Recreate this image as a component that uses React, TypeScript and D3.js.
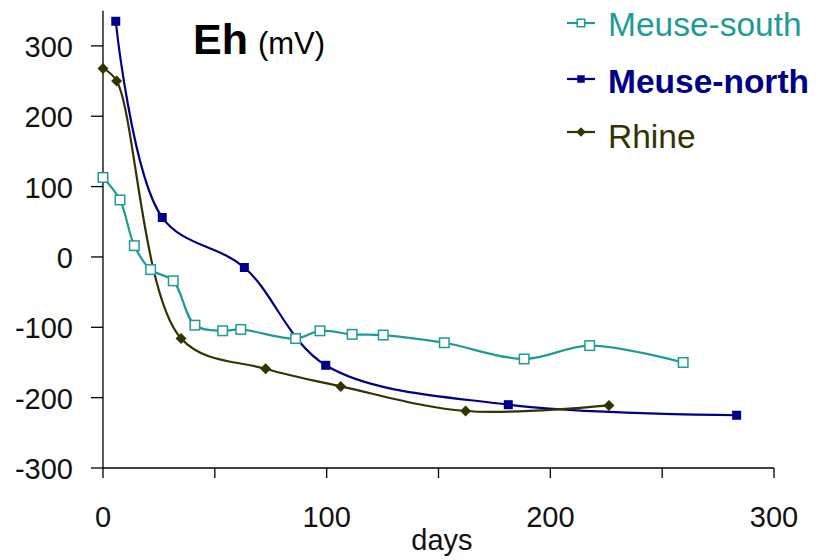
import React, { useEffect, useRef } from "react";
import * as d3 from "d3";

const seriesNames = ["Meuse-south", "Meuse-north", "Rhine"];

const southDays = [0, 7.6, 14, 21.3, 31.4, 41.1, 53.5, 61.6, 86.1, 97, 111.4, 125.3, 152.6, 188.3, 217.6, 259.4];
const southEh = [113, 81, 16, -18, -34, -97, -105, -103, -116, -105, -110, -111, -122, -145, -126, -150];

const northDays = [5.7, 26.5, 63.2, 99.6, 181.2, 283.3];
const northEh = [335, 56, -15, -154, -210, -225];

const rhineDays = [0, 6.1, 34.9, 72.7, 106.3, 162.1, 226.2];
const rhineEh = [268, 250, -116, -159, -184, -219, -211];

const xTicks = [0, 100, 200, 300];
const xMinorTicks = [0, 50, 100, 150, 200, 250, 300];
const yTicks = [-300, -200, -100, 0, 100, 200, 300];

const colors = ["#1f9b97", "#000088", "#333300"];
const font = "'Liberation Sans', Arial, sans-serif";

const App = () => {
  const svgRef = useRef<SVGSVGElement>(null);

  useEffect(() => {
    const svg = d3.select(svgRef.current);
    svg.selectAll("*").remove();

    const x = d3.scaleLinear().domain([0, 300]).range([103, 774]);
    const y = d3.scaleLinear().domain([-300, 350]).range([468, 10.7]);

    // axes
    const axes = svg.append("g").attr("stroke", "#000").attr("stroke-width", 1.3);
    axes.append("line").attr("x1", x(0)).attr("x2", x(0)).attr("y1", y(350)).attr("y2", y(-300));
    axes.append("line").attr("x1", x(0)).attr("x2", x(300)).attr("y1", y(-300)).attr("y2", y(-300));
    yTicks.forEach((t) => {
      axes.append("line").attr("x1", x(0) - 12).attr("x2", x(0)).attr("y1", y(t)).attr("y2", y(t));
    });
    xMinorTicks.forEach((t) => {
      axes.append("line").attr("x1", x(t)).attr("x2", x(t)).attr("y1", y(-300)).attr("y2", y(-300) + 10);
    });

    const labels = svg.append("g").attr("font-family", font).attr("font-size", 29).attr("fill", "#111");
    yTicks.forEach((t) => {
      labels.append("text").attr("x", 73).attr("y", y(t) + 11).attr("text-anchor", "end").text(t);
    });
    xTicks.forEach((t) => {
      labels.append("text").attr("x", x(t)).attr("y", 527).attr("text-anchor", "middle").text(t);
    });
    labels.append("text").attr("x", 442).attr("y", 550).attr("text-anchor", "middle").text("days");

    // title
    const title = svg.append("text").attr("font-family", font).attr("x", 193).attr("y", 54).attr("fill", "#000");
    title.append("tspan").attr("font-size", 43).attr("font-weight", "bold").text("Eh");
    title.append("tspan").attr("font-size", 31).attr("dx", 10).text("(mV)");

    const line = d3
      .line<[number, number]>()
      .x((d) => x(d[0]))
      .y((d) => y(d[1]))
      .curve(d3.curveCatmullRom.alpha(0.5));

    const series: [number, number][][] = [
      southDays.map((d, i) => [d, southEh[i]]),
      northDays.map((d, i) => [d, northEh[i]]),
      rhineDays.map((d, i) => [d, rhineEh[i]]),
    ];

    const diamond = (cx: number, cy: number, r: number) =>
      `M${cx},${cy - r}L${cx + r},${cy}L${cx},${cy + r}L${cx - r},${cy}Z`;

    const drawMarker = (g: any, k: number, cx: number, cy: number, s: number) => {
      if (k === 0) {
        g.append("rect")
          .attr("x", cx - s / 2).attr("y", cy - s / 2).attr("width", s).attr("height", s)
          .attr("fill", "#fff").attr("stroke", colors[0]).attr("stroke-width", 1.5);
      } else if (k === 1) {
        g.append("rect")
          .attr("x", cx - s / 2).attr("y", cy - s / 2).attr("width", s).attr("height", s)
          .attr("fill", colors[1]);
      } else {
        g.append("path").attr("d", diamond(cx, cy, s / 2 + 1)).attr("fill", colors[2]);
      }
    };

    const plot = svg.append("g");
    series.forEach((pts, k) => {
      plot.append("path")
        .attr("d", line(pts))
        .attr("fill", "none")
        .attr("stroke", colors[k])
        .attr("stroke-width", 2.2);
    });
    series.forEach((pts, k) => {
      pts.forEach((p) => drawMarker(plot, k, x(p[0]), y(p[1]), k === 0 ? 9.5 : 9));
    });

    // legend
    const legendY = [23, 79, 132];
    const baseY = [36, 92.5, 147.5];
    const legend = svg.append("g");
    seriesNames.forEach((name, k) => {
      legend.append("line")
        .attr("x1", 567).attr("x2", 595).attr("y1", legendY[k]).attr("y2", legendY[k])
        .attr("stroke", colors[k]).attr("stroke-width", 2.2);
      drawMarker(legend, k, 581, legendY[k], 7.5);
      legend.append("text")
        .attr("x", 608).attr("y", baseY[k])
        .attr("font-family", font)
        .attr("font-size", 33.5)
        .attr("font-weight", k === 1 ? "bold" : "normal")
        .attr("fill", colors[k])
        .text(name);
    });
  }, []);

  return (
    <svg ref={svgRef} width={831} height={560} style={{ display: "block", position: "absolute", left: 0, top: 0, background: "#fff" }} />
  );
};

export default App;
